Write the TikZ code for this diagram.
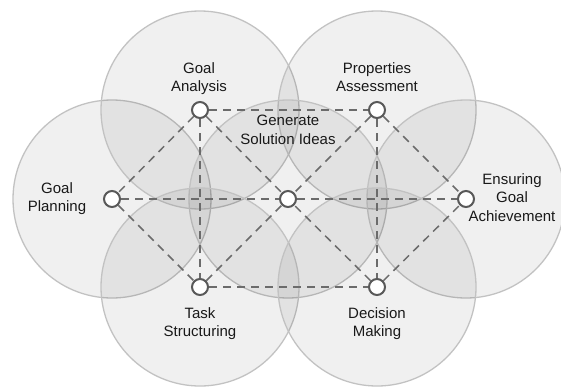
\documentclass[tikz,border=0pt]{standalone}
\usepackage{fontspec}
\setmainfont{Liberation Sans}

\begin{document}
\begin{tikzpicture}[x=1pt, y=-1pt,
    zone/.style={fill=black, fill opacity=0.06, draw=black!24, draw opacity=1, line width=1.3pt},
    hub/.style={circle, draw=black!65, fill=white, line width=2pt, minimum size=16pt, inner sep=0pt},
    link/.style={black!58, line width=1.5pt, dash pattern=on 8pt off 6pt},
    tag/.style={anchor=north, align=center, inner sep=0pt, text=black!90, font=\fontsize{15}{18.5}\selectfont}]
    \useasboundingbox (0,0) rectangle (561,388);

    % Draw the overlapping zones
    \draw[zone] (112,199) circle (99pt);
    \draw[zone] (200,110) circle (99pt);
    \draw[zone] (377,110) circle (99pt);
    \draw[zone] (288,199) circle (99pt);
    \draw[zone] (466,199) circle (99pt);
    \draw[zone] (200,287) circle (99pt);
    \draw[zone] (377,287) circle (99pt);

    % Draw the hubs
    \node[hub] (gp) at (112,199) {};
    \node[hub] (ga) at (200,110) {};
    \node[hub] (pa) at (377,110) {};
    \node[hub] (gs) at (288,199) {};
    \node[hub] (eg) at (466,199) {};
    \node[hub] (ts) at (200,287) {};
    \node[hub] (dm) at (377,287) {};

    % Draw the dashed links
    \draw[link] (ga) -- (pa);
    \draw[link] (ga) -- (ts);
    \draw[link] (ga) -- (gs);
    \draw[link] (ga) -- (gp);
    \draw[link] (pa) -- (dm);
    \draw[link] (pa) -- (gs);
    \draw[link] (pa) -- (eg);
    \draw[link] (gp) -- (gs);
    \draw[link] (gp) -- (ts);
    \draw[link] (gs) -- (eg);
    \draw[link] (ts) -- (dm);
    \draw[link] (ts) -- (gs);
    \draw[link] (dm) -- (gs);
    \draw[link] (dm) -- (eg);

    % Add the labels
    \node[tag] (ga-text) at (199,62) {Goal\\Analysis};
    \node[tag] (pa-text) at (377,62) {Properties\\Assessment};
    \node[tag] (gs-text) at (288,115) {Generate\\Solution Ideas};
    \node[tag] (gp-text) at (57,182) {Goal\\Planning};
    \node[tag] (eg-text) at (512,173) {Ensuring\\Goal\\Achievement};
    \node[tag] (ts-text) at (200,307) {Task\\Structuring};
    \node[tag] (dm-text) at (377,307) {Decision\\Making};
\end{tikzpicture}
\end{document}
